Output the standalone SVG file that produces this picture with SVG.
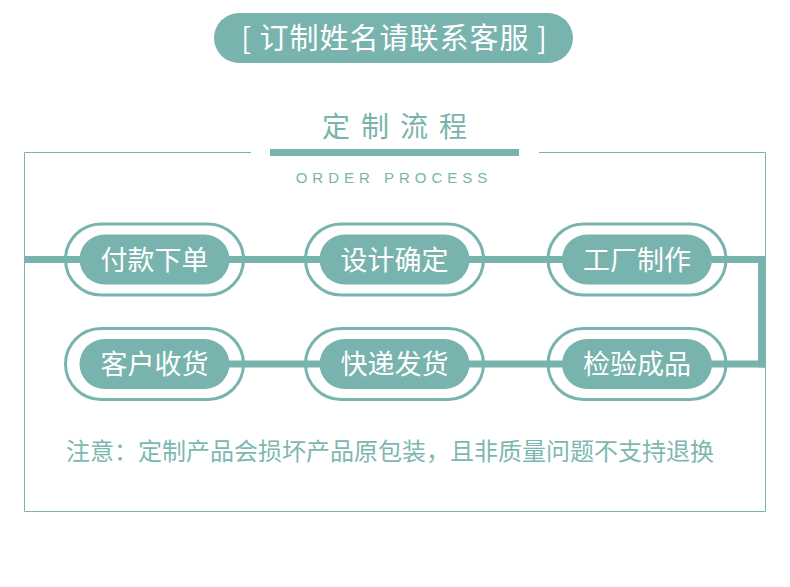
<svg xmlns="http://www.w3.org/2000/svg" width="790" height="587" viewBox="0 0 790 587">
<style>
.cjk{font-family:"Noto Sans CJK SC","Noto Sans",sans-serif}
.outer{fill:none;stroke:#78b4ad;stroke-width:3}
.inner{fill:#78b4ad}
.nt{fill:#ffffff;font-size:27px;text-anchor:middle}
.line{fill:#78b4ad}
</style>
<rect width="790" height="587" fill="#ffffff"/>
<g id="banner">
<rect x="214" y="13" width="359" height="50" rx="25" fill="#78b4ad"/>
<text x="394.5" y="49" class="cjk" font-size="29" fill="#ffffff" text-anchor="middle" letter-spacing="1">[ 订制姓名请联系客服 ]</text>
</g>
<g id="title">
<text x="400" y="137" class="cjk" font-size="28" fill="#78b4ad" text-anchor="middle" letter-spacing="11">定制流程</text>
<rect x="270" y="149" width="249" height="7" fill="#78b4ad"/>
<text x="394" y="183" font-family="Liberation Sans, Arial, sans-serif" font-size="15" fill="#78b4ad" text-anchor="middle" letter-spacing="5">ORDER PROCESS</text>
</g>
<g id="frame" fill="none" stroke="#78b4ad" stroke-width="1">
<path d="M251 152.5 H24.5 V511.5 H765.5 V152.5 H539"/>
</g>
<g id="connectors">
<rect class="line" x="25" y="256" width="740" height="7"/>
<rect class="line" x="758" y="256" width="7" height="111.5"/>
<rect class="line" x="200" y="360.5" width="565" height="7"/>
</g>
<g id="n1" transform="translate(154.5 259.5)">
<rect class="outer" x="-89" y="-35.5" width="178" height="71" rx="35.5"/>
<rect class="inner" x="-75" y="-25" width="150" height="50" rx="25"/>
<text class="nt cjk" x="0" y="10">付款下单</text>
</g>
<g id="n2" transform="translate(394.5 259.5)">
<rect class="outer" x="-89" y="-35.5" width="178" height="71" rx="35.5"/>
<rect class="inner" x="-75" y="-25" width="150" height="50" rx="25"/>
<text class="nt cjk" x="0" y="10">设计确定</text>
</g>
<g id="n3" transform="translate(637 259.5)">
<rect class="outer" x="-89" y="-35.5" width="178" height="71" rx="35.5"/>
<rect class="inner" x="-75" y="-25" width="150" height="50" rx="25"/>
<text class="nt cjk" x="0" y="10">工厂制作</text>
</g>
<g id="n4" transform="translate(637 364)">
<rect class="outer" x="-89" y="-35.5" width="178" height="71" rx="35.5"/>
<rect class="inner" x="-75" y="-25" width="150" height="50" rx="25"/>
<text class="nt cjk" x="0" y="10">检验成品</text>
</g>
<g id="n5" transform="translate(394.5 364)">
<rect class="outer" x="-89" y="-35.5" width="178" height="71" rx="35.5"/>
<rect class="inner" x="-75" y="-25" width="150" height="50" rx="25"/>
<text class="nt cjk" x="0" y="10">快递发货</text>
</g>
<g id="n6" transform="translate(154.5 364)">
<rect class="outer" x="-89" y="-35.5" width="178" height="71" rx="35.5"/>
<rect class="inner" x="-75" y="-25" width="150" height="50" rx="25"/>
<text class="nt cjk" x="0" y="10">客户收货</text>
</g>
<g id="note">
<text x="66" y="460" class="cjk" font-size="24" fill="#7db8b0">注意：定制产品会损坏产品原包装，且非质量问题不支持退换</text>
</g>
</svg>
